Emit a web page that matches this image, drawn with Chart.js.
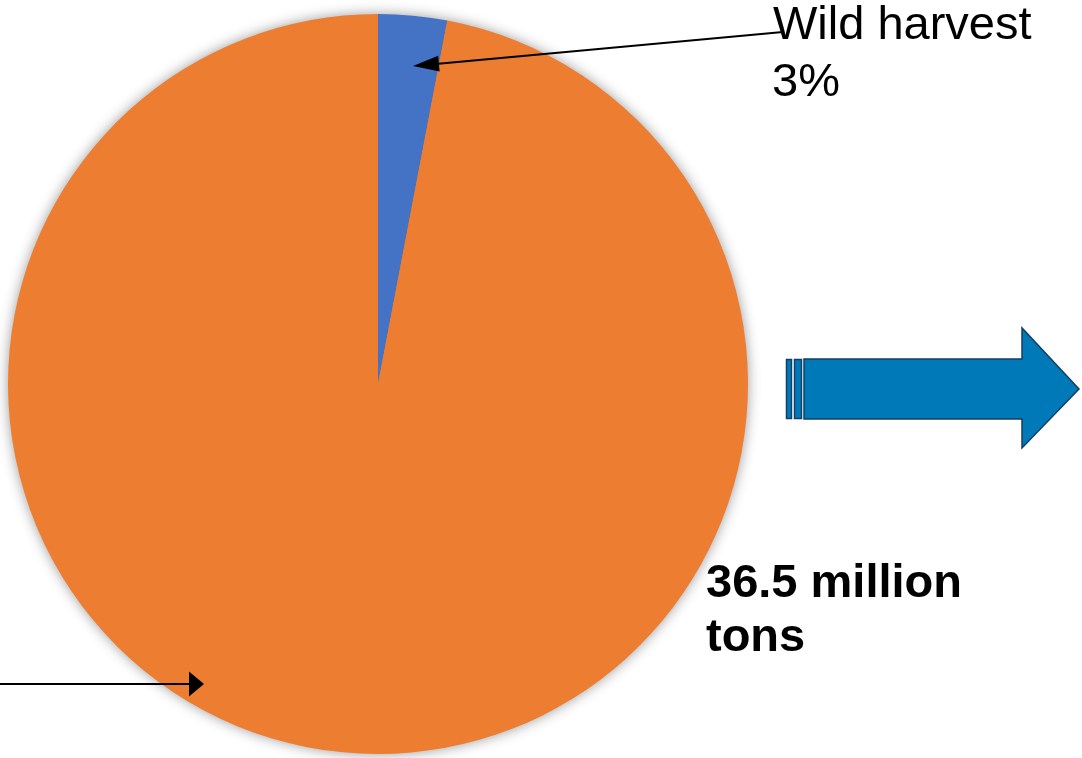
<!DOCTYPE html>
<html>
<head>
<meta charset="utf-8">
<script src="https://cdn.jsdelivr.net/npm/chart.js@4/dist/chart.umd.min.js"></script>
<style>
  html, body { margin: 0; padding: 0; background: #ffffff; }
  #wrap { width: 1082px; height: 758px; position: relative; }
</style>
</head>
<body>
<div id="wrap"><canvas id="pie"></canvas></div>
<script>
// slice data
const categories = ['Wild harvest', 'Aquaculture'];
const shares = [3, 97];
const sliceColors = ['#4472C4', '#ED7D31'];
const totalLabel = ['36.5 million', 'tons'];

const FONT = '"Liberation Sans", Arial, sans-serif';

// soft grey halo around the outer rim only, painted before the arcs
const pieShadow = {
    id: 'pieShadow',
    beforeDatasetsDraw(chart) {
        const arc = chart.getDatasetMeta(0).data[0];
        if (!arc) return;
        const ctx = chart.ctx;
        ctx.save();
        ctx.shadowColor = 'rgba(0, 0, 0, 0.45)';
        ctx.shadowBlur = 14;
        ctx.fillStyle = sliceColors[1];
        ctx.beginPath();
        ctx.arc(arc.x, arc.y, arc.outerRadius - 1, 0, Math.PI * 2);
        ctx.fill();
        ctx.restore();
    }
};

function arrowHead(ctx, x, y, angle, len, half) {
    ctx.save();
    ctx.translate(x, y);
    ctx.rotate(angle);
    ctx.beginPath();
    ctx.moveTo(0, 0);
    ctx.lineTo(-len, -half);
    ctx.lineTo(-len, half);
    ctx.closePath();
    ctx.fill();
    ctx.restore();
}

// callouts, labels and the block arrow on the right
const overlay = {
    id: 'overlay',
    afterDraw(chart) {
        const ctx = chart.ctx;
        ctx.save();

        // callout line to the small slice
        const sx = 783, sy = 32, tx = 413, ty = 66;
        const ang = Math.atan2(ty - sy, tx - sx);
        ctx.strokeStyle = '#000';
        ctx.fillStyle = '#000';
        ctx.lineWidth = 2;
        ctx.beginPath();
        ctx.moveTo(sx, sy);
        ctx.lineTo(tx - Math.cos(ang) * 20, ty - Math.sin(ang) * 20);
        ctx.stroke();
        arrowHead(ctx, tx, ty, ang, 26, 8);

        // pointer from the left edge
        ctx.beginPath();
        ctx.moveTo(0, 684);
        ctx.lineTo(192, 684);
        ctx.stroke();
        arrowHead(ctx, 204, 684, 0, 15, 12.5);

        // labels
        ctx.textBaseline = 'alphabetic';
        ctx.textAlign = 'left';
        ctx.font = '47px ' + FONT;
        ctx.fillText(categories[0], 773, 39);
        ctx.fillText(shares[0] + '%', 772, 96);
        ctx.font = 'bold 47px ' + FONT;
        ctx.fillText(totalLabel[0], 706, 597);
        ctx.fillText(totalLabel[1], 706, 651);

        // block arrow
        ctx.fillStyle = '#0079B8';
        ctx.strokeStyle = '#123f63';
        ctx.lineWidth = 1.5;
        ctx.fillRect(786.5, 359.5, 5, 59);
        ctx.strokeRect(786.5, 359.5, 5, 59);
        ctx.fillRect(794.5, 359.5, 7, 59);
        ctx.strokeRect(794.5, 359.5, 7, 59);
        ctx.beginPath();
        ctx.moveTo(804, 359);
        ctx.lineTo(1022, 359);
        ctx.lineTo(1022, 328);
        ctx.lineTo(1079, 389);
        ctx.lineTo(1022, 448);
        ctx.lineTo(1022, 419);
        ctx.lineTo(804, 419);
        ctx.closePath();
        ctx.fill();
        ctx.stroke();

        ctx.restore();
    }
};

new Chart(document.getElementById('pie'), {
    type: 'pie',
    data: {
        labels: categories,
        datasets: [{
            data: shares,
            backgroundColor: sliceColors,
            borderWidth: 0,
            hoverOffset: 0
        }]
    },
    options: {
        responsive: true,
        maintainAspectRatio: false,
        animation: false,
        events: [],
        layout: { padding: { left: 8, right: 334, top: 14, bottom: 4 } },
        plugins: {
            legend: { display: false },
            tooltip: { enabled: false }
        }
    },
    plugins: [pieShadow, overlay]
});
</script>
</body>
</html>
